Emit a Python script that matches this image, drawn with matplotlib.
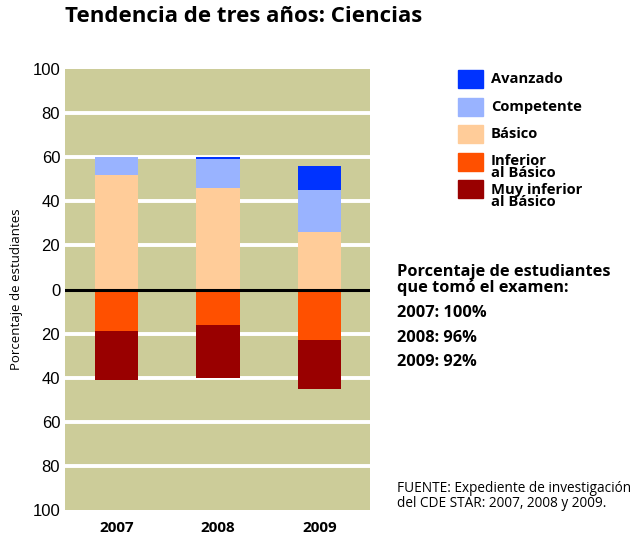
import matplotlib
matplotlib.use("Agg")
import matplotlib.pyplot as plt
from matplotlib.patches import Rectangle
import numpy as np

years = ["2007", "2008", "2009"]
avanzado = [0, 1, 11]
competente = [8, 13, 19]
basico = [52, 46, 26]
inferior = [19, 16, 23]
muy_inferior = [22, 24, 22]

niveles = ["Avanzado", "Competente", "Básico", "Inferior\nal Básico", "Muy inferior\nal Básico"]
colores = ["#0033ff", "#99b3ff", "#ffcc99", "#ff5000", "#990000"]

participacion = ["2007: 100%", "2008: 96%", "2009: 92%"]
yticks = [-100, -80, -60, -40, -20, 0, 20, 40, 60, 80, 100]

W, H = 636, 538
fig = plt.figure(figsize=(W / 100, H / 100), dpi=100)
ax = fig.add_axes([65 / W, 1 - 510 / H, 305 / W, 441 / H])
ax.set_facecolor("#cccc99")

x = np.arange(len(years))
bw = 0.424
ab = np.array(basico)
ac = ab + np.array(competente)
ax.bar(x, basico, bw, color=colores[2], zorder=3)
ax.bar(x, competente, bw, bottom=ab, color=colores[1], zorder=3)
ax.bar(x, avanzado, bw, bottom=ac, color=colores[0], zorder=3)
inf = -np.array(inferior)
ax.bar(x, inf, bw, color=colores[3], zorder=3)
ax.bar(x, -np.array(muy_inferior), bw, bottom=inf, color=colores[4], zorder=3)

for v in yticks:
    if v == 0:
        ax.axhline(0, color="black", lw=2.2, zorder=4)
    elif abs(v) < 100:
        ax.axhline(v, color="white", lw=2.8, zorder=1)

ax.set_xlim(-0.507, 2.497)
ax.set_ylim(-100, 100)
ax.set_yticks(yticks)
ax.set_yticklabels([str(abs(v)) for v in yticks], family="Liberation Sans", fontsize=12)
ax.set_xticks(x)
ax.set_xticklabels(years, family="Open Sans", fontweight="bold", fontsize=11)
ax.tick_params(axis="y", length=0, pad=3.5)
ax.tick_params(axis="x", length=0, pad=8)
for s in ax.spines.values():
    s.set_visible(False)
ax.set_ylabel("Porcentaje de estudiantes", family="Open Sans", fontsize=9.5)
ax.yaxis.set_label_coords(-42 / 305, 0.5)

fig.text(65 / W, 1 - 17 / H, "Tendencia de tres años: Ciencias", family="Open Sans",
         fontweight="bold", fontsize=16, va="center", ha="left")

# leyenda
centros = [79, 107, 134, 162, 189]
desfase = [0, 0, 0, 5, 7]
for lab, col, cy, d in zip(niveles, colores, centros, desfase):
    fig.add_artist(Rectangle((458 / W, 1 - (cy + 9) / H), 25 / W, 18 / H,
                             transform=fig.transFigure, color=col))
    fig.text(491 / W, 1 - (cy + d) / H, lab, family="Open Sans",
             fontweight="bold", fontsize=10.6, va="center", ha="left", linespacing=0.8)

fig.text(397 / W, 1 - 280 / H, "Porcentaje de estudiantes\nque tomó el examen:",
         family="Open Sans", fontweight="bold", fontsize=11.8, va="center", ha="left",
         linespacing=0.95)
for i, t in enumerate(participacion):
    fig.text(397 / W, 1 - (313 + 24.5 * i) / H, t, family="Open Sans", fontweight="bold",
             fontsize=11.8, va="center", ha="left")

fig.text(397 / W, 1 - 496 / H, "FUENTE: Expediente de investigación\ndel CDE STAR: 2007, 2008 y 2009.",
         family="Open Sans", fontsize=9.8, va="center", ha="left", linespacing=0.95)

fig.savefig("out.png", dpi=100)
